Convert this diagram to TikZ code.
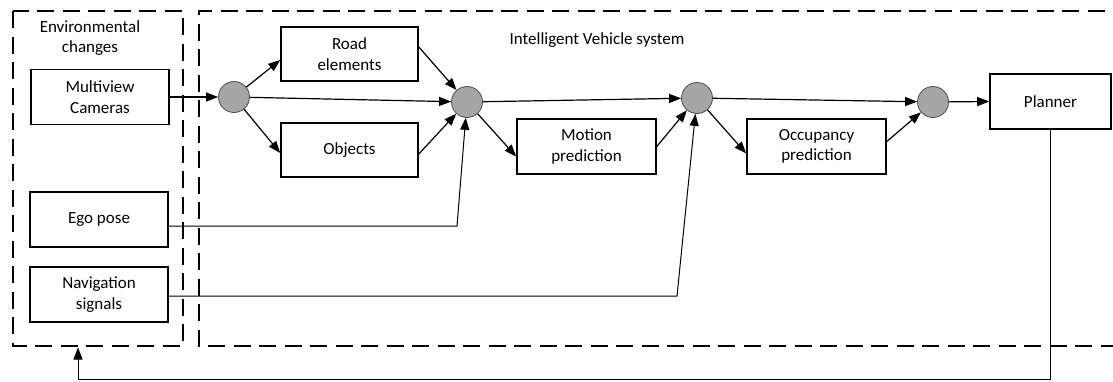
\documentclass[tikz,border=0pt]{standalone}
\usepackage{fontspec}
\setmainfont{Carlito}
\usetikzlibrary{arrows.meta}

\begin{document}
\begin{tikzpicture}[x=1pt,y=-1pt]
\tikzstyle{block}=[rectangle, draw, line width=1.6pt, minimum width=138pt, minimum height=55pt, inner sep=2pt, align=center, font=\fontsize{17}{20.5}\selectfont]
\tikzstyle{dot}=[circle, draw=black!70, line width=0.8pt, fill=black!35, minimum size=31pt, inner sep=0pt]
\tikzstyle{frame}=[line width=2.4pt, dash pattern=on 17pt off 8.5pt]
\tikzstyle{arr}=[line width=1.2pt, -{Triangle[length=12pt,width=9pt]}]
\tikzstyle{wire}=[line width=1pt, -{Triangle[length=12pt,width=9pt]}]
\tikzstyle{label}=[align=center, font=\fontsize{17}{20.5}\selectfont]
\useasboundingbox (0,0) rectangle (1113,381);

% dashed frames
\draw[frame] (13,11) rectangle (183,346);
\draw[frame] (1130,11) -- (199,11) -- (199,346) -- (1130,346);
\node[label] (envlabel) at (90,38) {Environmental\\changes};
\node[label] (ivlabel) at (597,40) {Intelligent Vehicle system};

% inputs
\node[block] (cam) at (100,97) {Multiview\\Cameras};
\node[block] (ego) at (99,219.5) {Ego pose};
\node[block] (nav) at (99,294.5) {Navigation\\signals};

% processing
\node[block, minimum width=137pt, minimum height=54pt] (road) at (349.5,54) {Road\\elements};
\node[block, minimum width=137pt, minimum height=54pt] (obj) at (349.5,150) {Objects};
\node[block, minimum width=139pt] (motion) at (586.5,146.5) {Motion\\prediction};
\node[block, minimum width=139pt] (occ) at (816.5,146.5) {Occupancy\\prediction};
\node[block, minimum width=121pt] (plan) at (1050.5,101.5) {Planner};

\foreach \n/\x/\y in {1/234/97, 2/467/102, 3/697/98, 4/933/102} {
  \node[dot] (c\n) at (\x,\y) {};}

\draw[arr] (cam.east) -- (c1);
\draw[arr] (c1) -- ([yshift=-6pt]road.west);
\draw[arr] (c1) -- ([yshift=-3pt]obj.west);
\draw[arr] (c1) -- (c2);
\draw[arr] ([yshift=7pt]road.east) -- (c2);
\draw[arr] ([yshift=-4pt]obj.east) -- (c2);
\draw[arr] (c2) -- ([yshift=-10pt]motion.west);
\draw[arr] (motion.east) -- (c3);
\draw[arr] (c2) -- (c3);
\draw[arr] (c3) -- ([yshift=-7pt]occ.west);
\draw[arr] ([yshift=5pt]occ.east) -- (c4);
\draw[arr] (c3) -- (c4);
\draw[arr] (c4) -- (plan.west);

% side inputs and feedback
\coordinate (egoturn) at (457,226);
\coordinate (navturn) at (677,296);
\coordinate (fbturn) at (78,379);
\coordinate (envbottom) at (78,347.5);
\draw[wire] ([yshift=-6.5pt]ego.east) -- (egoturn) -- (c2);
\draw[wire] ([yshift=-1.5pt]nav.east) -- (navturn) -- (c3);
\draw[wire] (plan.south) |- (fbturn) -- (envbottom);
\end{tikzpicture}
\end{document}
